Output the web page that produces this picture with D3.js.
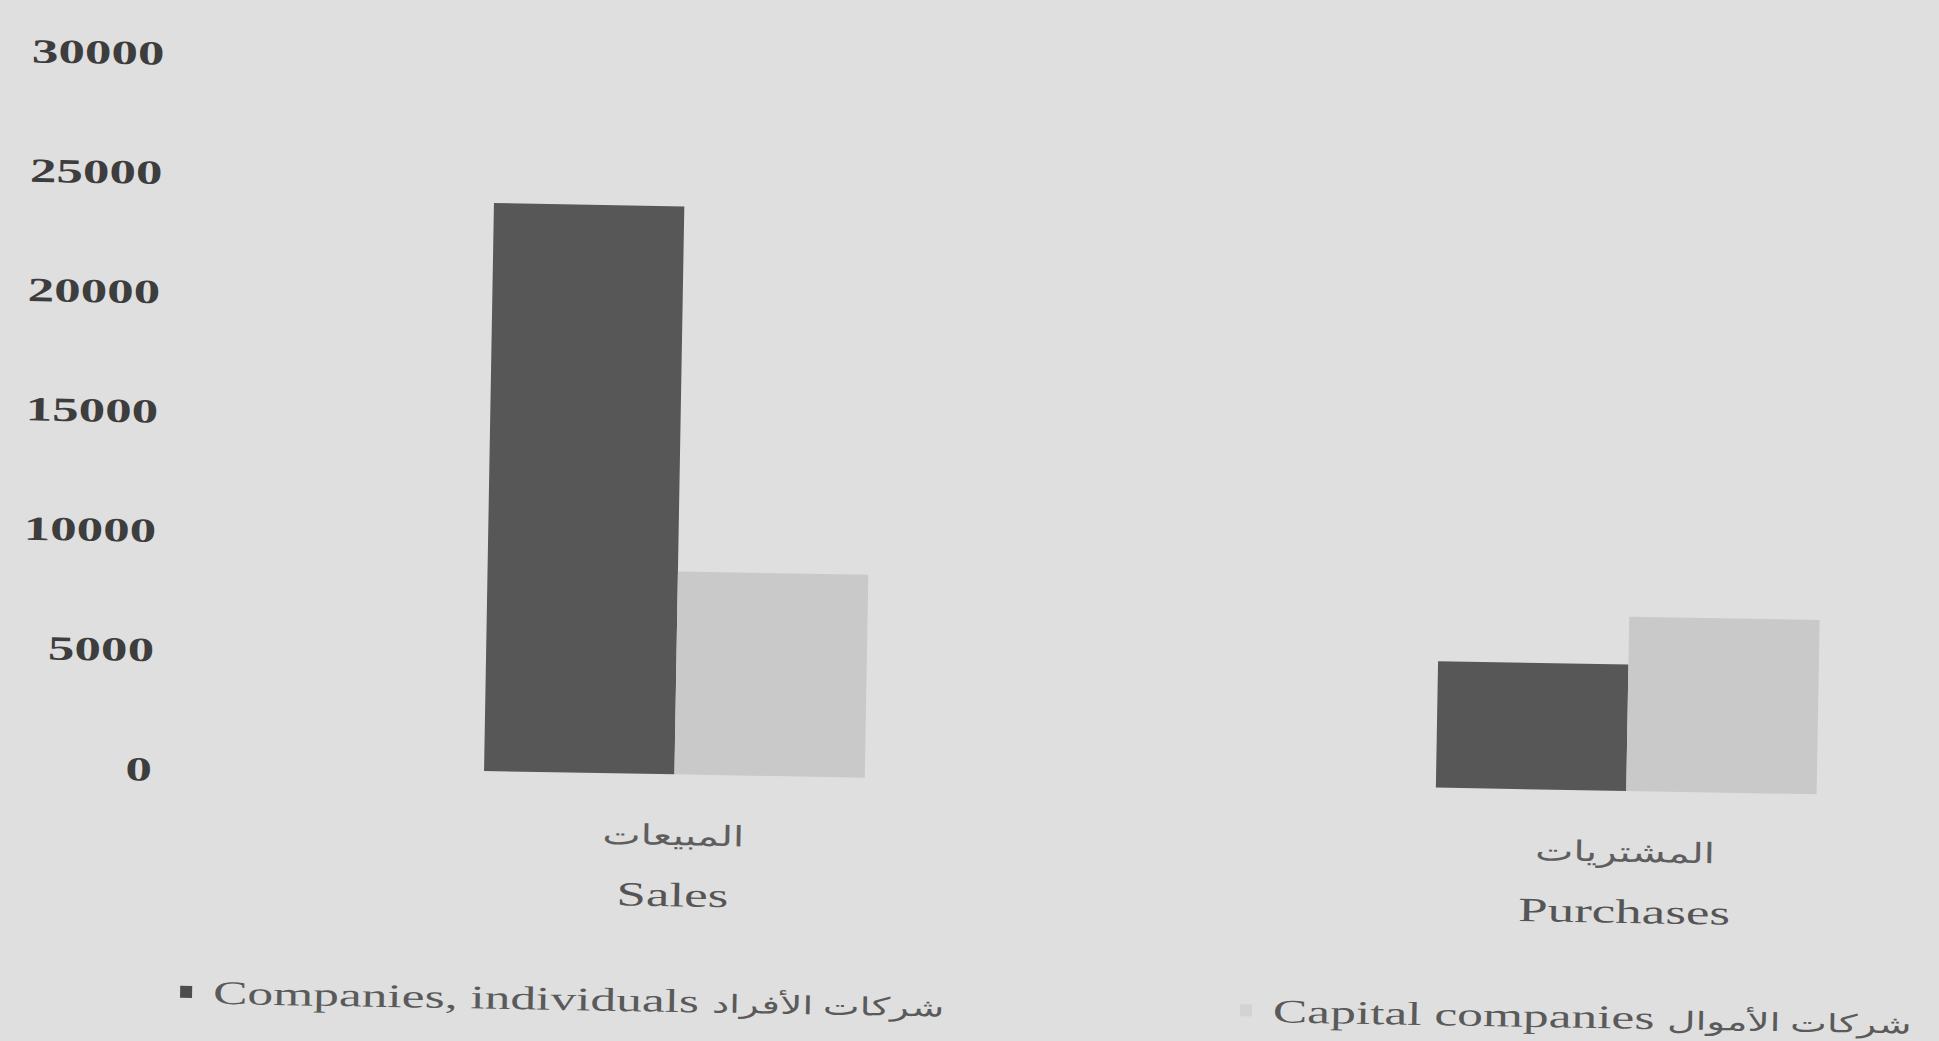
<!DOCTYPE html>
<html>
<head>
<meta charset="utf-8">
<script src="https://cdn.jsdelivr.net/npm/d3@7/dist/d3.min.js"></script>
<style>
  html, body { margin: 0; padding: 0; background: #dfdfdf; overflow: hidden; }
  svg { display: block; }
</style>
</head>
<body>
<svg id="chart" width="1939" height="1041"></svg>
<script>
// Sales and purchases by type of company
const categories = ["Sales", "Purchases"];
const categoriesAr = ["المبيعات", "المشتريات"];
const seriesNames = ["Companies, individuals", "Capital companies"];
const seriesNamesAr = ["شركات الأفراد", "شركات الأموال"];
const individualsValues = [23800, 5300];
const capitalValues = [8500, 7300];
const yTicks = [0, 5000, 10000, 15000, 20000, 25000, 30000];

const seriesValues = [individualsValues, capitalValues];
const seriesColors = ["#575757", "#c9c9c9"];
const markerColors = ["#4d4d4d", "#d3d3d3"];

const W = 1939, H = 1041;
const stretch = 1.56;           // wide letterforms used throughout the figure
const serif = "'Liberation Serif', 'Times New Roman', 'DejaVu Sans', serif";

const svg = d3.select("#chart");
svg.append("rect").attr("width", W).attr("height", H).attr("fill", "#dfdfdf");

// whole figure sits slightly tilted on the page
const g = svg.append("g").attr("transform", "rotate(1.0,140,769)");

const y = d3.scaleLinear().domain([0, 30000]).range([765, 49]);
const x0 = d3.scaleBand().domain(categories).range([160, 1920])
  .paddingInner(0.6).paddingOuter(0.2244).align(0.7584);
const x1 = d3.scaleBand().domain(d3.range(seriesValues.length))
  .range([0, x0.bandwidth()]).padding(0);

// bars
const groups = g.selectAll("g.cat").data(categories).join("g")
  .attr("class", "cat")
  .attr("transform", d => `translate(${x0(d)},0)`);

groups.selectAll("rect").data((d, i) => seriesValues.map((vals, s) => ({ s, v: vals[i] })))
  .join("rect")
  .attr("x", d => x1(d.s))
  .attr("y", d => y(d.v))
  .attr("width", x1.bandwidth())
  .attr("height", d => y(0) - y(d.v))
  .attr("fill", d => seriesColors[d.s]);

// value axis
const yAxis = g.append("g").attr("transform", "translate(152,0)")
  .call(d3.axisLeft(y).tickValues(yTicks).tickSize(0).tickPadding(0).tickFormat(d3.format("d")));
yAxis.select(".domain").remove();
yAxis.selectAll("text")
  .attr("x", 0).attr("y", 4)
  .attr("transform", `scale(${stretch},1)`)
  .style("font-family", serif)
  .style("font-size", "34px")
  .style("font-weight", "bold")
  .style("fill", "#3d3d3d");

// category labels (Arabic above English)
const catLabels = g.append("g");
categories.forEach((c, i) => {
  const cx = x0(c) + x0.bandwidth() / 2;
  catLabels.append("text")
    .attr("transform", `translate(${cx},826) scale(1.45,1)`)
    .attr("text-anchor", "middle").attr("dy", "0.35em")
    .style("font-family", serif).style("font-size", "28px")
    .style("fill", "#5e5e5e")
    .text(categoriesAr[i]);
  catLabels.append("text")
    .attr("transform", `translate(${cx},885) scale(${stretch},1)`)
    .attr("text-anchor", "middle").attr("dy", "0.35em")
    .style("font-family", serif).style("font-size", "34px")
    .style("fill", "#555")
    .text(c);
});

// legend
const legendX = [184, 1244];
const legend = g.append("g");
seriesNames.forEach((name, s) => {
  legend.append("rect")
    .attr("x", legendX[s]).attr("y", 985)
    .attr("width", 12).attr("height", 12)
    .attr("fill", markerColors[s]);
  const t = legend.append("text")
    .attr("transform", `translate(${legendX[s] + 33},991) scale(${stretch},1)`)
    .attr("dy", "0.35em")
    .style("font-family", serif).style("font-size", "33px")
    .style("fill", "#5a5a5a");
  t.append("tspan").text(name + " ");
  t.append("tspan").style("font-size", "25px").text(seriesNamesAr[s]);
});
</script>
</body>
</html>
